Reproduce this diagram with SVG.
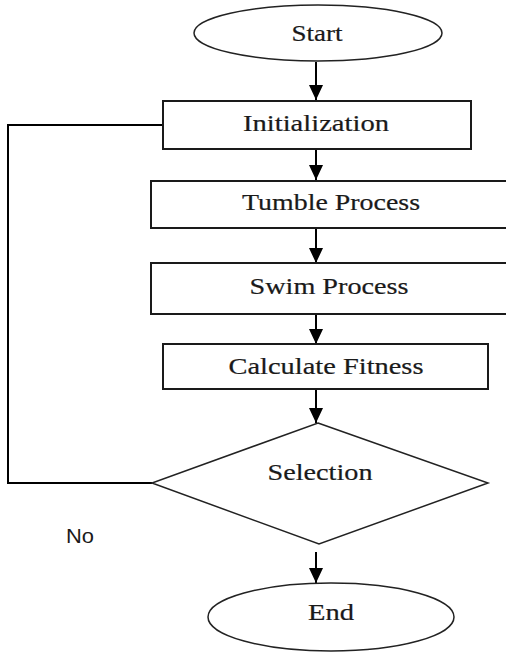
<svg xmlns="http://www.w3.org/2000/svg" width="506" height="653" viewBox="0 0 506 653">
<defs>
<marker id="ah" markerUnits="userSpaceOnUse" markerWidth="16" markerHeight="14" refX="15" refY="7" orient="auto">
<path d="M0,0 L15,7 L0,14 Z" fill="#000"/>
</marker>
<style>
.box{fill:#fff;stroke:#1a1a1a;stroke-width:2}
.term{fill:#fff;stroke:#222;stroke-width:1.5}
.t{font-family:"Liberation Serif","Times New Roman",serif;font-size:23px;fill:#1a1a1a;stroke:#1a1a1a;stroke-width:0.2;text-anchor:middle}
.s{font-family:"Liberation Sans",Arial,sans-serif;font-size:20px;fill:#1a1a1a}
.c{fill:none;stroke:#000;stroke-width:2}
</style>
</defs>
<rect width="506" height="653" fill="#fff"/>
<g id="connectors">
<line class="c" x1="316" y1="62" x2="316" y2="100" marker-end="url(#ah)"/>
<line class="c" x1="316" y1="149" x2="316" y2="180" marker-end="url(#ah)"/>
<line class="c" x1="316" y1="229" x2="316" y2="263" marker-end="url(#ah)"/>
<line class="c" x1="316" y1="314" x2="316" y2="344" marker-end="url(#ah)"/>
<line class="c" x1="316" y1="389" x2="316" y2="423" marker-end="url(#ah)"/>
<line class="c" x1="316" y1="552" x2="316" y2="583" marker-end="url(#ah)"/>
<polyline class="c" points="152,483 8,483 8,125 163,125"/>
<text class="s" x="66" y="543" textLength="28" lengthAdjust="spacingAndGlyphs">No</text>
</g>
<g id="start">
<ellipse class="term" cx="318" cy="33" rx="124" ry="28"/>
<text class="t" x="317" y="41" textLength="51" lengthAdjust="spacingAndGlyphs">Start</text>
</g>
<g id="init">
<rect class="box" x="163" y="101" width="308" height="48"/>
<text class="t" x="316" y="131" textLength="146" lengthAdjust="spacingAndGlyphs">Initialization</text>
</g>
<g id="tumble">
<rect class="box" x="151" y="181" width="370" height="47"/>
<text class="t" x="331" y="210" textLength="178" lengthAdjust="spacingAndGlyphs">Tumble Process</text>
</g>
<g id="swim">
<rect class="box" x="151" y="263" width="370" height="51"/>
<text class="t" x="329" y="294" textLength="159" lengthAdjust="spacingAndGlyphs">Swim Process</text>
</g>
<g id="fitness">
<rect class="box" x="163" y="344" width="325" height="45"/>
<text class="t" x="326" y="374" textLength="195" lengthAdjust="spacingAndGlyphs">Calculate Fitness</text>
</g>
<g id="selection">
<polygon class="term" points="318,423 488,483 319,544 152,483"/>
<text class="t" x="320" y="480" textLength="105" lengthAdjust="spacingAndGlyphs">Selection</text>
</g>
<g id="end">
<ellipse class="term" cx="331" cy="617" rx="123" ry="34"/>
<text class="t" x="331" y="620" textLength="46" lengthAdjust="spacingAndGlyphs">End</text>
</g>
</svg>
